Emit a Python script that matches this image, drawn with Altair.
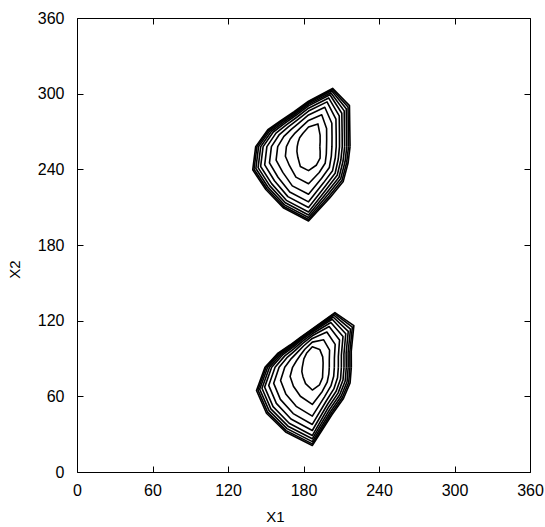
import altair as alt
import numpy as np
import pandas as pd

# Spoke directions (degrees) along which each contour ring's radius was read
ANGLES = [0, 22.5, 45, 67.5, 90, 112.5, 135, 157.5, 180, 202.5, 225, 247.5, 270, 292.5, 315, 337.5]

# Upper peak: centre (X1, X2) and ring radii (inner -> outer), one value per spoke
UPPER_CENTER = (184, 258)
UPPER_RINGS = [
    [9, 10, 13, 19.5, 15.5, 11.5, 10, 9, 9, 10, 12, 17, 19, 16, 13, 10],
    [14.3, 15.6, 20.3, 27.4, 20.8, 16.3, 15.2, 15.8, 17.6, 19.9, 21.4, 26.2, 29.4, 22.2, 18.7, 15.3],
    [18.6, 20.2, 26.2, 33.8, 25.1, 20.2, 19.4, 21.2, 24.5, 27.9, 28.9, 33.7, 37.8, 27.2, 23.4, 19.6],
    [22, 23.8, 30.8, 38.4, 28.2, 23, 22.4, 25.1, 29.5, 33.6, 34.3, 39, 43.8, 31.1, 27, 23],
    [24.6, 26.6, 34.5, 41.8, 30.5, 25, 24.6, 28, 33.1, 37.7, 38.3, 42.9, 48.2, 34.2, 29.9, 25.6],
    [26.8, 28.9, 37.4, 44.5, 32.3, 26.7, 26.4, 30.3, 36.1, 41.2, 41.5, 46.1, 51.8, 36.7, 32.2, 27.8],
    [28.7, 30.9, 40.1, 46.3, 33.5, 27.8, 27.6, 31.9, 38, 43.4, 43.7, 48.2, 54.2, 39, 34.3, 29.7],
    [30.4, 32.7, 42.4, 47.9, 34.6, 28.7, 28.6, 33.2, 39.7, 45.3, 45.5, 50, 56.2, 40.9, 36.1, 31.4],
    [31.8, 34.2, 44.4, 49.1, 35.4, 29.4, 29.4, 34.2, 41, 46.9, 46.9, 51.4, 57.8, 42.6, 37.7, 32.8],
    [33, 35.5, 46, 50, 36, 30, 30, 35, 42, 48, 48, 52.5, 59, 44, 39, 34],
]

# Lower peak
LOWER_CENTER = (187, 83)
LOWER_RINGS = [
    [8.5, 9.3, 11.7, 15.4, 16.3, 12, 9.5, 8, 8, 9, 10.5, 14, 18, 15, 11.5, 9],
    [13.5, 14.6, 19.4, 23.6, 20, 15.5, 13.5, 13.6, 15.7, 19.1, 21.2, 24.8, 29.4, 20.7, 16.7, 14.2],
    [17.5, 19, 25.7, 30.3, 22.9, 18.3, 16.8, 18.1, 21.9, 27.3, 29.8, 33.5, 38.7, 25.3, 20.9, 18.4],
    [20.7, 22.4, 30.6, 35, 25, 20.4, 19.1, 21.3, 26.4, 33.2, 35.9, 39.7, 45.3, 28.9, 24.2, 21.7],
    [23.1, 25, 34.5, 38.5, 26.6, 21.9, 20.8, 23.7, 29.6, 37.5, 40.4, 44.3, 50.1, 31.7, 26.8, 24.3],
    [25.2, 27.2, 37.6, 41.3, 27.9, 23.1, 22.2, 25.6, 32.3, 41, 44.1, 48, 54.1, 34, 28.9, 26.4],
    [27, 29.1, 40.4, 43.2, 28.7, 23.9, 23.1, 26.9, 34, 43.3, 46.6, 50.5, 56.7, 36.1, 30.8, 28.3],
    [28.5, 30.8, 42.9, 44.8, 29.4, 24.6, 23.9, 28, 35.5, 45.3, 48.6, 52.6, 58.9, 37.9, 32.4, 29.9],
    [29.9, 32.3, 45, 46.1, 30, 25.1, 24.5, 28.9, 36.7, 46.8, 50.3, 54.3, 60.7, 39.4, 33.8, 31.3],
    [31, 33.5, 46.7, 47, 30.4, 25.5, 25, 29.5, 37.6, 48, 51.5, 55.5, 62, 40.7, 35, 32.5],
]

TICKS = [0, 60, 120, 180, 240, 300, 360]

rows = []
for blob, (cx, cy), rings in [("upper", UPPER_CENTER, UPPER_RINGS), ("lower", LOWER_CENTER, LOWER_RINGS)]:
    for k, radii in enumerate(rings):
        pts = list(zip(ANGLES, radii)) + [(ANGLES[0] + 360, radii[0])]
        for i, (a, r) in enumerate(pts):
            t = np.deg2rad(a)
            rows.append({"ring": f"{blob}-{k}", "order": i,
                         "X1": cx + r * np.cos(t), "X2": cy + r * np.sin(t)})
df = pd.DataFrame(rows)

FONT = "Liberation Sans"
xs = alt.Scale(domain=[0, 360], nice=False, zero=False)
ys = alt.Scale(domain=[0, 360], nice=False, zero=False)

common = dict(values=TICKS, offset=-6, tickSize=6, domain=False, grid=False,
              labelFont=FONT, labelFontSize=16, labelFlush=False, labelOverlap=False,
              titleFont=FONT, titleFontSize=15, titleFontWeight="normal")

base = alt.Chart(df)
lines = base.mark_line(color="black", strokeWidth=1.6, strokeJoin="round").encode(
    x=alt.X("X1:Q", scale=xs, axis=alt.Axis(orient="bottom", title="X1", labelPadding=10,
                                           titleX=198, titleY=50, titleBaseline="middle",
                                           titleAlign="center", **common)),
    y=alt.Y("X2:Q", scale=ys, axis=alt.Axis(orient="left", title="X2", labelPadding=13,
                                           titleX=-69, titleY=251, titleAngle=270,
                                           titleBaseline="middle", titleAlign="center", **common)),
    detail="ring:N",
    order="order:Q",
)
mirror = base.mark_line(opacity=0).encode(
    x=alt.X("X1:Q", scale=xs, axis=alt.Axis(orient="top", title="", labels=False, **common)),
    y=alt.Y("X2:Q", scale=ys, axis=alt.Axis(orient="right", title="", labels=False, **common)),
    detail="ring:N",
    order="order:Q",
)

chart = (
    alt.layer(lines, mirror)
    .resolve_axis(x="independent", y="independent")
    .properties(width=453, height=454,
                padding={"left": 77, "top": 18, "right": 15, "bottom": 55},
                autosize=alt.AutoSizeParams(type="none"))
    .configure_view(stroke="black", strokeWidth=1)
    .configure_axis(tickColor="black", labelColor="black", titleColor="black", tickWidth=1)
)
chart.save("out.html", embed_options={"renderer": "svg", "actions": False})
